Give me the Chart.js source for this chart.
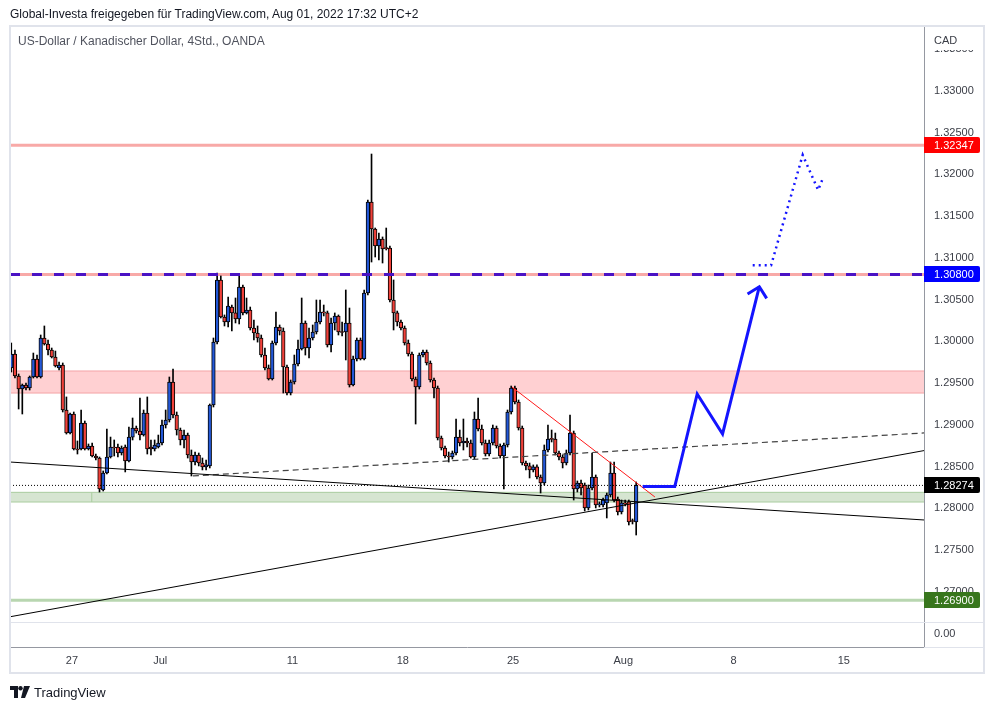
<!DOCTYPE html>
<html>
<head>
<meta charset="utf-8">
<script src="https://cdn.jsdelivr.net/npm/chart.js@4.4.1/dist/chart.umd.min.js"></script>
<style>
  body { margin: 0; background: #fff; font-family: "Liberation Sans", Arial, sans-serif; }
  #wrap { position: relative; width: 994px; height: 710px; overflow: hidden; }
  #chart { position: absolute; left: 0; top: 0; }
  .head { position: absolute; left: 10px; top: 7px; font-size: 12px; color: #131722; white-space: nowrap; }
  .sym { position: absolute; left: 18px; top: 34px; font-size: 12px; color: #50535e; white-space: nowrap; }
  .foot { position: absolute; left: 10px; top: 684px; height: 16px; display: flex; align-items: center; font-size: 13px; color: #131722; }
  .foot svg { margin-right: 4px; }
</style>
</head>
<body>
<div id="wrap">
  <canvas id="chart" width="994" height="710"></canvas>
  <div class="head">Global-Investa freigegeben für TradingView.com, Aug 01, 2022 17:32 UTC+2</div>
  <div class="sym">US-Dollar / Kanadischer Dollar, 4Std., OANDA</div>
  <div class="foot">
    <svg width="20" height="12" viewBox="0 0 20 12"><path d="M0 0h8v12H4V4H0z" fill="#131722"/><circle cx="10.5" cy="2.2" r="2.2" fill="#131722"/><path d="M14 0h6l-5 12h-4z" fill="#131722"/></svg>
    <span>TradingView</span>
  </div>
</div>
<script>
// 4h candles, index 0 = first visible bar
var opens = [1.29680,1.29847,1.29584,1.29428,1.29476,1.29440,1.29572,1.29788,1.29572,1.30039,
  1.29967,1.29895,1.29812,1.29680,1.29716,1.29177,1.28901,1.29129,1.28710,1.28710,
  1.29021,1.28710,1.28746,1.28626,1.28602,1.28219,1.28423,1.28614,1.28734,1.28734,
  1.28662,1.28734,1.28566,1.28853,1.28961,1.28925,1.28877,1.29141,1.28734,1.28710,
  1.28734,1.28782,1.28997,1.29057,1.29512,1.29117,1.28937,1.28818,1.28877,1.28638,
  1.28554,1.28638,1.28542,1.28495,1.28507,1.29237,1.29991,1.30734,1.30291,1.30231,
  1.30410,1.30339,1.30267,1.30650,1.30339,1.30374,1.30159,1.30099,1.30039,1.29835,
  1.29680,1.29548,1.29979,1.30171,1.30123,1.29692,1.29380,1.29512,1.29728,1.29907,
  1.30219,1.29919,1.30039,1.30111,1.30231,1.30350,1.30339,1.29955,1.30219,1.30303,
  1.30111,1.30111,1.30219,1.29476,1.29788,1.30015,1.29788,1.30578,1.31668,1.31344,
  1.31141,1.31225,1.31117,1.31117,1.30494,1.30339,1.30231,1.30159,1.29979,1.29847,
  1.29548,1.29452,1.29835,1.29871,1.29740,1.29536,1.29440,1.28842,1.28722,1.28626,
  1.28614,1.28662,1.28853,1.28782,1.28806,1.28782,1.28614,1.29069,1.28949,1.28782,
  1.28650,1.28782,1.28961,1.28746,1.28626,1.28758,1.29153,1.29440,1.29273,1.28961,
  1.28542,1.28507,1.28459,1.28495,1.28375,1.28303,1.28698,1.28830,1.28830,1.28662,
  1.28614,1.28542,1.28662,1.28901,1.28231,1.28303,1.28279,1.28004,1.28243,1.28375,
  1.28040,1.28040,1.28064,1.28159,1.28423,1.28111,1.27956,1.28064,1.28076,1.27848,
  1.27836];
var highs = [1.29979,1.29895,1.29608,1.29488,1.29500,1.29584,1.29859,1.29835,1.30075,1.30183,
  1.30015,1.29919,1.29883,1.29752,1.29740,1.29333,1.29141,1.29153,1.28806,1.29177,
  1.29045,1.28770,1.28782,1.28650,1.28614,1.28447,1.28949,1.28853,1.28818,1.28770,
  1.28746,1.28758,1.28973,1.29081,1.28985,1.29321,1.29177,1.29333,1.28818,1.28818,
  1.28877,1.29057,1.29177,1.29572,1.29668,1.29153,1.28961,1.28937,1.28901,1.28698,
  1.28674,1.28662,1.28602,1.28578,1.29249,1.30039,1.30817,1.30782,1.30315,1.30530,
  1.30434,1.30518,1.30782,1.30674,1.30518,1.30410,1.30255,1.30183,1.30075,1.29919,
  1.29716,1.30003,1.30350,1.30195,1.30159,1.29716,1.29536,1.29835,1.30015,1.30518,
  1.30243,1.30159,1.30195,1.30494,1.30494,1.30434,1.30362,1.30279,1.30339,1.30315,
  1.30231,1.30614,1.30398,1.29823,1.30039,1.30039,1.30614,1.31692,1.32242,1.31356,
  1.31296,1.31249,1.31356,1.31141,1.30734,1.30362,1.30255,1.30183,1.30015,1.29871,
  1.29572,1.29859,1.29895,1.29895,1.29764,1.29560,1.29464,1.28865,1.28746,1.28674,
  1.28686,1.29069,1.28937,1.29069,1.28842,1.28818,1.29153,1.29321,1.28997,1.28818,
  1.28818,1.28997,1.28985,1.28770,1.28782,1.29177,1.29464,1.29464,1.29297,1.28985,
  1.28566,1.28542,1.28519,1.28519,1.28399,1.28758,1.28997,1.28937,1.28901,1.28686,
  1.28638,1.28698,1.29117,1.28925,1.28327,1.28339,1.28303,1.28279,1.28662,1.28399,
  1.28076,1.28123,1.28183,1.28554,1.28554,1.28135,1.28099,1.28099,1.28099,1.27872,
  1.28315];
var lows = [1.29632,1.29560,1.29189,1.29129,1.29416,1.29416,1.29560,1.29560,1.29560,1.29955,
  1.29835,1.29800,1.29692,1.29656,1.29153,1.28889,1.28889,1.28698,1.28650,1.28698,
  1.28698,1.28698,1.28614,1.28578,1.28195,1.28207,1.28411,1.28602,1.28626,1.28614,
  1.28638,1.28435,1.28554,1.28818,1.28901,1.28818,1.28865,1.28650,1.28638,1.28686,
  1.28722,1.28758,1.28961,1.29033,1.29081,1.28877,1.28758,1.28722,1.28602,1.28387,
  1.28519,1.28507,1.28459,1.28459,1.28483,1.29213,1.29967,1.30279,1.30183,1.30171,
  1.30123,1.30219,1.30207,1.30315,1.30327,1.30135,1.30015,1.29990,1.29812,1.29656,
  1.29536,1.29536,1.29955,1.30075,1.29380,1.29357,1.29357,1.29488,1.29704,1.29895,
  1.29835,1.29800,1.30015,1.30087,1.30207,1.30303,1.29931,1.29871,1.30135,1.30075,
  1.30063,1.29776,1.29452,1.29464,1.29764,1.29776,1.29776,1.30554,1.30949,1.31009,
  1.30973,1.30937,1.31093,1.30470,1.30135,1.30183,1.30135,1.29955,1.29823,1.29524,
  1.29009,1.29428,1.29812,1.29716,1.29512,1.29321,1.28818,1.28698,1.28602,1.28554,
  1.28590,1.28638,1.28746,1.28698,1.28734,1.28602,1.28590,1.28925,1.28758,1.28626,
  1.28626,1.28758,1.28722,1.28602,1.28231,1.28734,1.29129,1.29249,1.28937,1.28519,
  1.28459,1.28363,1.28435,1.28351,1.28183,1.28279,1.28674,1.28794,1.28638,1.28578,
  1.28483,1.28519,1.28638,1.28099,1.28195,1.28159,1.27968,1.27980,1.28219,1.28004,
  1.28016,1.28016,1.27884,1.28135,1.28076,1.27920,1.27932,1.28028,1.27800,1.27812,
  1.27680];
var closes = [1.29847,1.29584,1.29428,1.29476,1.29440,1.29572,1.29788,1.29572,1.30039,1.29967,
  1.29895,1.29812,1.29704,1.29716,1.29177,1.28901,1.29129,1.28710,1.28698,1.29021,
  1.28710,1.28746,1.28626,1.28602,1.28231,1.28423,1.28614,1.28734,1.28722,1.28662,
  1.28722,1.28566,1.28853,1.28961,1.28925,1.28877,1.29141,1.28710,1.28710,1.28758,
  1.28782,1.28997,1.29057,1.29512,1.29117,1.28937,1.28818,1.28877,1.28638,1.28554,
  1.28638,1.28542,1.28495,1.28519,1.29237,1.29991,1.30734,1.30291,1.30231,1.30422,
  1.30339,1.30267,1.30650,1.30339,1.30374,1.30159,1.30099,1.30039,1.29835,1.29680,
  1.29548,1.29979,1.30171,1.30123,1.29692,1.29380,1.29512,1.29728,1.29907,1.30219,
  1.29919,1.30039,1.30111,1.30231,1.30350,1.30339,1.29955,1.30219,1.30303,1.30111,
  1.30105,1.30219,1.29476,1.29788,1.30015,1.29788,1.30578,1.31668,1.31344,1.31141,
  1.31225,1.31105,1.31110,1.30494,1.30339,1.30231,1.30159,1.29979,1.29847,1.29548,
  1.29452,1.29835,1.29871,1.29740,1.29536,1.29440,1.28842,1.28722,1.28626,1.28614,
  1.28662,1.28853,1.28782,1.28806,1.28782,1.28614,1.29069,1.28949,1.28782,1.28650,
  1.28782,1.28961,1.28746,1.28626,1.28758,1.29153,1.29440,1.29273,1.28961,1.28542,
  1.28507,1.28459,1.28495,1.28375,1.28303,1.28698,1.28830,1.28825,1.28662,1.28614,
  1.28542,1.28662,1.28901,1.28231,1.28303,1.28243,1.28004,1.28243,1.28375,1.28040,
  1.28052,1.28099,1.28159,1.28423,1.28099,1.27956,1.28064,1.28052,1.27836,1.27842,
  1.28274];

// time axis: bar index of the first bar of each labelled day
var xTickPos = [16.5, 40.5, 76.5, 106.5, 136.5, 166.5, 196.5, 226.5];
var xTickLabels = ['27', 'Jul', '11', '18', '25', 'Aug', '8', '15'];
var yTickValues = [1.270, 1.275, 1.280, 1.285, 1.290, 1.295, 1.300, 1.305, 1.310, 1.315, 1.320, 1.325, 1.330, 1.335];
var subPaneTick = 1.26495;   // where the lower pane prints its 0.00
var xMin = -0.35, xMax = 248.3;
var yMin = 1.26339, yMax = 1.33775;

// drawn levels and zones
var resistTop = 1.32347;
var resistMid = 1.30800;
var lastPrice = 1.28274;
var supportLow = 1.26900;
var redZone = [1.29380, 1.29644];
var greenZone = [1.28075, 1.28191];
var greenZoneStart = 21.9;

// trend lines and forecast, [bar index, price]
var trendDown = [[-0.35, 1.28554], [248.3, 1.27860]];
var trendUp = [[-0.35, 1.26701], [248.3, 1.28691]];
var trendDashed = [[49.4, 1.28387], [248.3, 1.28902]];
var trendRed = [[136.2, 1.29452], [175.1, 1.28135]];
var forecast = [[171.75, 1.28260], [180.5, 1.28260], [186.6, 1.29369], [193.5, 1.28890], [203.5, 1.30653]];
var arrowHead = [[200.3, 1.30566], [203.5, 1.30653], [205.5, 1.30514]];
var forecastAlt = [[201.7, 1.30909], [206.7, 1.30909], [215.3, 1.32230], [219.5, 1.31811], [220.9, 1.31963]];

var UP = '#2358d8', DOWN = '#f0413a';
var FONT = "'Liberation Sans', Arial, sans-serif";

function pts(list) {
  return list.map(function(p) { return { x: p[0], y: p[1] }; });
}
function flat(v) {
  return [{ x: xMin, y: v }, { x: xMax, y: v }];
}
function line(data, color, width, dash, order) {
  return {
    type: 'line', data: data, borderColor: color, borderWidth: width,
    borderDash: dash || [], pointRadius: 0, fill: false, tension: 0, order: order
  };
}

var bodies = [], wicks = [], bodyColors = [];
for (var i = 0; i < opens.length; i++) {
  bodies.push({ x: i, y: [opens[i], closes[i]] });
  wicks.push({ x: i, y: [lows[i], highs[i]] });
  bodyColors.push(closes[i] >= opens[i] ? UP : DOWN);
}

var redZoneSet = line(flat(redZone[1]), '#f4a3a6', 1, null, 30);
redZoneSet.fill = { value: redZone[0] };
redZoneSet.backgroundColor = 'rgba(255,205,208,0.95)';
var greenZoneSet = line(flat(greenZone[1]), '#a9cc9f', 1, null, 30);
greenZoneSet.fill = { value: greenZone[0] };
greenZoneSet.backgroundColor = 'rgba(212,228,207,0.95)';

var arrowEnd = line(pts(arrowHead), '#1414ff', 3, null, 1);
arrowEnd.borderJoinStyle = 'miter';

var datasets = [
  redZoneSet,
  line(flat(redZone[0]), '#f4a3a6', 1, null, 29),
  greenZoneSet,
  line(flat(greenZone[0]), '#a9cc9f', 1, null, 29),
  line([{ x: greenZoneStart, y: greenZone[0] }, { x: greenZoneStart, y: greenZone[1] }], '#a9cc9f', 1, null, 29),
  line(flat(resistTop), '#f8a9a7', 3, null, 25),
  line(flat(resistMid), '#f8a9a7', 3, null, 25),
  line(flat(supportLow), '#b8d6b0', 3, null, 25),
  {
    type: 'bar', data: wicks, backgroundColor: '#000', barThickness: 1,
    grouped: false, borderWidth: 0, order: 12
  },
  {
    type: 'bar', data: bodies, backgroundColor: bodyColors, borderColor: '#000',
    borderWidth: 1, borderSkipped: false, barThickness: 3.6, minBarLength: 1,
    grouped: false, order: 11
  },
  line(flat(resistMid), '#4a12c4', 3, [10, 12], 5),
  line(flat(lastPrice), '#000', 1, [1, 2], 5),
  line(pts(trendDown), '#000', 1, null, 4),
  line(pts(trendUp), '#000', 1, null, 4),
  line(pts(trendDashed), '#444', 1.2, [6, 4], 4),
  line(pts(trendRed), '#ff1a1a', 1, null, 4),
  line(pts(forecast), '#1414ff', 3, null, 1),
  arrowEnd,
  line(pts(forecastAlt), '#1414ff', 2.5, [2, 4], 1)
];

function tag(ctx, y, text, bg) {
  ctx.fillStyle = bg;
  ctx.beginPath();
  ctx.roundRect(924, Math.round(y) - 8, 56, 16, [0, 2, 2, 0]);
  ctx.fill();
  ctx.fillStyle = '#fff';
  ctx.font = '11px ' + FONT;
  ctx.textBaseline = 'middle';
  ctx.textAlign = 'left';
  ctx.fillText(text, 934, Math.round(y) + 0.5);
}

var frame = {
  id: 'frame',
  afterDraw: function(chart) {
    var ctx = chart.ctx, y = chart.scales.y;
    ctx.save();
    ctx.strokeStyle = '#e0e3eb';
    ctx.lineWidth = 1;
    ctx.beginPath();
    ctx.moveTo(10, 622.5); ctx.lineTo(984, 622.5);
    ctx.moveTo(924, 647.5); ctx.lineTo(984, 647.5);
    ctx.stroke();
    ctx.lineWidth = 2;
    ctx.strokeRect(10, 26, 974, 647);
    // currency header over the axis
    ctx.fillStyle = '#fff';
    ctx.fillRect(925, 27, 58, 23);
    ctx.fillStyle = '#3a3d46';
    ctx.font = '11px ' + FONT;
    ctx.textBaseline = 'middle';
    ctx.fillText('CAD', 934, 41);
    tag(ctx, y.getPixelForValue(resistTop), resistTop.toFixed(5), '#ff0000');
    tag(ctx, y.getPixelForValue(resistMid), resistMid.toFixed(5), '#0000ff');
    tag(ctx, y.getPixelForValue(lastPrice), lastPrice.toFixed(5), '#000000');
    tag(ctx, y.getPixelForValue(supportLow), supportLow.toFixed(5), '#38761d');
    ctx.restore();
  }
};

new Chart(document.getElementById('chart'), {
  type: 'bar',
  data: { datasets: datasets },
  options: {
    responsive: false,
    animation: false,
    events: [],
    layout: { padding: { left: 10, top: 26, right: 10, bottom: 37 } },
    plugins: { legend: { display: false }, tooltip: { enabled: false } },
    scales: {
      x: {
        type: 'linear', min: xMin, max: xMax, offset: false,
        grid: { display: false, drawTicks: false },
        border: { display: true, color: '#9598a1' },
        afterBuildTicks: function(s) { s.ticks = xTickPos.map(function(v) { return { value: v }; }); },
        afterFit: function(s) { s.height = 26; },
        ticks: {
          autoSkip: false, maxRotation: 0, padding: 7, color: '#3a3d46',
          font: { family: FONT, size: 11 },
          callback: function(v, i) { return xTickLabels[i]; }
        }
      },
      y: {
        type: 'linear', position: 'right', min: yMin, max: yMax,
        grid: { display: false, drawTicks: false },
        border: { display: true, color: '#9598a1' },
        afterBuildTicks: function(s) {
          s.ticks = [{ value: subPaneTick }].concat(yTickValues.map(function(v) { return { value: v }; }));
        },
        afterFit: function(s) { s.width = 60; },
        ticks: {
          autoSkip: false, crossAlign: 'near', padding: 10, color: '#3a3d46',
          font: { family: FONT, size: 11 },
          callback: function(v) { return v === subPaneTick ? '0.00' : v.toFixed(5); }
        }
      }
    }
  },
  plugins: [frame]
});
</script>
</body>
</html>
